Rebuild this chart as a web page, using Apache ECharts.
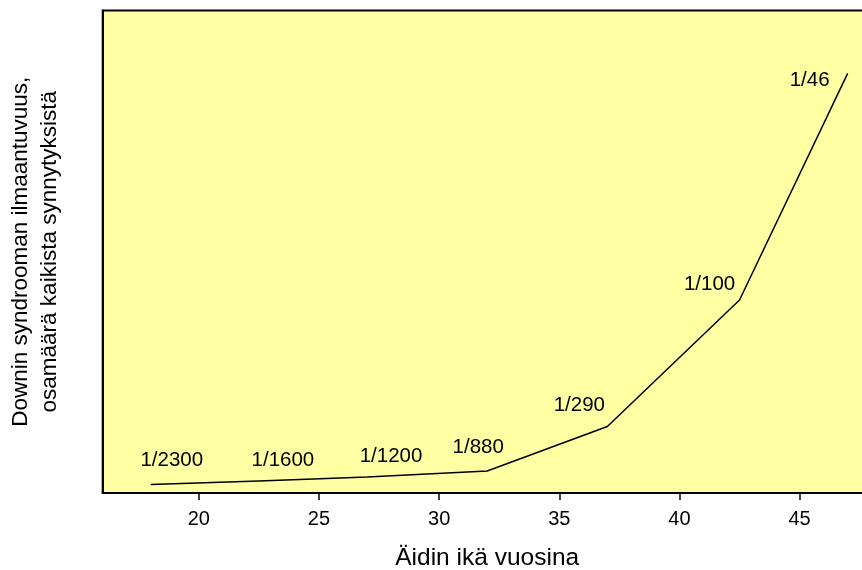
<!DOCTYPE html>
<html>
<head>
<meta charset="utf-8">
<script src="https://cdn.jsdelivr.net/npm/echarts@6/dist/echarts.min.js"></script>
<style>
html,body{margin:0;padding:0;background:#fff;}
#c{width:862px;height:570px;}
</style>
</head>
<body>
<div id="c"></div>
<script>
// Data
const ages = [18, 22.5, 27, 32, 37, 42.5, 47];
const denominators = [2300, 1600, 1200, 880, 290, 100, 46];
const xTickValues = [20, 25, 30, 35, 40, 45];
const xTitle = 'Äidin ikä vuosina';
const yTitle = 'Downin syndrooman ilmaantuvuus,\nosamäärä kaikista synnytyksistä';

// label placement (styling)
const labelOffsets = [[21,-24],[24,-21],[24,-21],[-9,-24],[-28,-21],[-30,-16],[-38,7]];

const FONT = '"Liberation Sans", Arial, sans-serif';
const seriesData = ages.map((a, i) => ({
  value: [a, 1 / denominators[i]],
  label: { offset: labelOffsets[i] }
}));

const chart = echarts.init(document.getElementById('c'), null, {renderer: 'canvas'});
chart.setOption({
  animation: false,
  backgroundColor: '#ffffff',
  grid: {
    left: 102.7, top: 10.5, width: 769, height: 482.5,
    outerBoundsMode: 'none', containLabel: false,
    show: true, backgroundColor: '#FFFFA3', borderColor: '#000', borderWidth: 2
  },
  xAxis: {
    type: 'value', min: 16, max: 48,
    name: xTitle, nameLocation: 'middle', nameGap: 53,
    nameTextStyle: { fontFamily: FONT, fontSize: 24.5, color: '#000' },
    axisLine: { show: true, lineStyle: { color: '#000', width: 2 } },
    axisTick: { show: true, length: 7, customValues: xTickValues, lineStyle: { color: '#000', width: 1.5 } },
    axisLabel: { customValues: xTickValues, margin: 16, fontFamily: FONT, fontSize: 20, color: '#000' },
    splitLine: { show: false }
  },
  yAxis: {
    type: 'value', min: 0, max: 0.025,
    name: yTitle, nameLocation: 'middle', nameGap: 38, nameRotate: 90,
    nameTextStyle: { fontFamily: FONT, fontSize: 22.5, color: '#000', lineHeight: 29 },
    axisLine: { show: true, lineStyle: { color: '#000', width: 2 } },
    axisTick: { show: false },
    axisLabel: { show: false },
    splitLine: { show: false }
  },
  series: [{
    type: 'line',
    data: seriesData,
    symbol: 'circle', symbolSize: 0.001,
    itemStyle: { color: '#000' },
    lineStyle: { color: '#000', width: 1.5 },
    label: {
      show: true, position: 'inside', align: 'center', verticalAlign: 'middle',
      formatter: p => '1/' + denominators[p.dataIndex],
      fontFamily: FONT, fontSize: 20.5, color: '#000'
    }
  }]
});
</script>
</body>
</html>
